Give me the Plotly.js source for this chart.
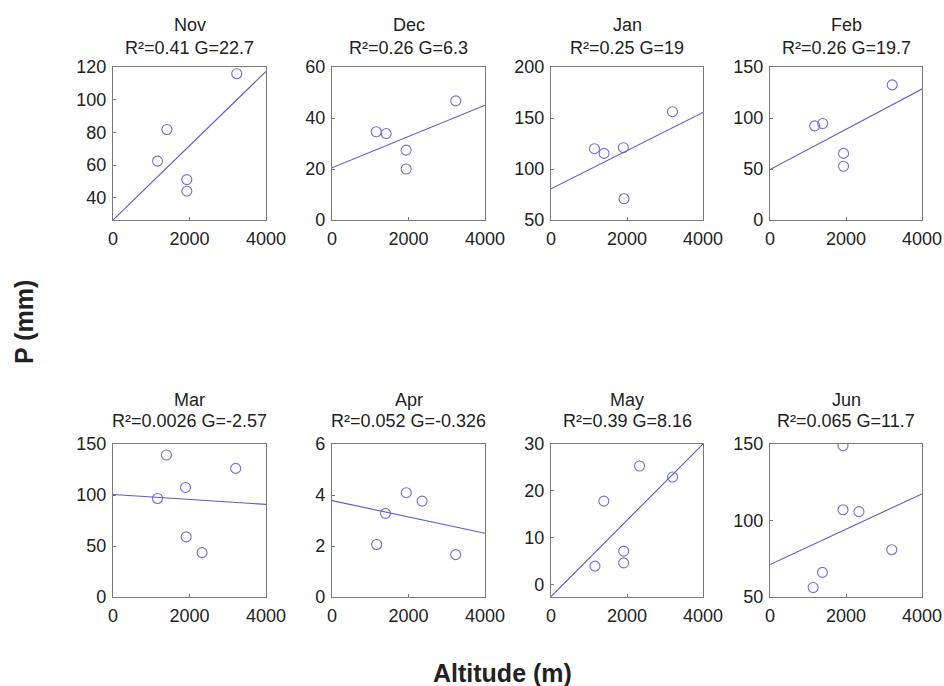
<!DOCTYPE html>
<html>
<head>
<meta charset="utf-8">
<script src="https://cdn.plot.ly/plotly-3.0.1.min.js"></script>
<style>html,body{margin:0;padding:0;background:#fff;}#chart{width:944px;height:686px;}</style>
</head>
<body>
<div id="chart"></div>
<script>
// ---- data ----
const months = ["Nov", "Dec", "Jan", "Feb", "Mar", "Apr", "May", "Jun"];
const r2Labels = ["0.41", "0.26", "0.25", "0.26", "0.0026", "0.052", "0.39", "0.065"];
const gLabels = ["22.7", "6.3", "19", "19.7", "-2.57", "-0.326", "8.16", "11.7"];

const altNov = [3235, 1410, 1165, 1930, 1930];
const pNov = [115.9, 81.8, 62.5, 51.2, 44.1];
const altDec = [3235, 1157, 1417, 1939, 1939];
const pDec = [46.7, 34.6, 33.9, 27.4, 20.0];
const altJan = [3197, 1144, 1397, 1904, 1921];
const pJan = [156.2, 119.9, 115.3, 120.9, 70.8];
const altFeb = [3216, 1176, 1386, 1935, 1935];
const pFeb = [132.5, 92.3, 94.6, 65.3, 52.7];
const altMar = [1397, 3207, 1897, 1164, 1914, 2328];
const pMar = [139.2, 126.1, 107.4, 96.6, 58.9, 43.5];
const altApr = [1943, 2356, 1398, 1169, 3235];
const pApr = [4.09, 3.76, 3.28, 2.06, 1.66];
const altMay = [2330, 3200, 1391, 1913, 1913, 1157];
const pMay = [25.3, 22.95, 17.8, 7.1, 4.6, 3.9];
const altJun = [1921, 1921, 2341, 3205, 1380, 1135];
const pJun = [148.9, 107.0, 105.8, 80.9, 66.1, 56.2];

const altitudes = [altNov, altDec, altJan, altFeb, altMar, altApr, altMay, altJun];
const precip = [pNov, pDec, pJan, pFeb, pMar, pApr, pMay, pJun];

// regression line end values (at altitude 0 m and 4000 m)
const fitX = [0, 4000];
const fitStart = [26.5, 20.5, 80.6, 49.4, 100.5, 3.78, -2.6, 71.2];
const fitEnd = [117.3, 45.0, 155.5, 128.4, 90.8, 2.5, 30.0, 117.4];

const xTicks = [0, 2000, 4000];
const yTicksList = [
  [40, 60, 80, 100, 120], [0, 20, 40, 60], [50, 100, 150, 200], [0, 50, 100, 150],
  [0, 50, 100, 150], [0, 2, 4, 6], [0, 10, 20, 30], [50, 100, 150]
];
const yRanges = [[26.5, 120], [0, 60], [50, 200], [0, 150], [0, 150], [0, 6], [-2.7, 30], [50, 150]];

// ---- layout geometry (pixels) ----
const W = 944, H = 686;
const colPx = [[113, 266], [332, 485], [551, 703], [770, 922]];
const rowPx = [[67, 220], [444, 597]];
const titleOffsets = [[42, 19], [44, 23]];
const fx = p => p / W;
const fy = p => 1 - p / H;

const FONT = "Liberation Sans, Arial, sans-serif";
const markerColor = "#6f6fe0";
const lineColor = "#5a5ad0";
const tickFont = {family: FONT, size: 18, color: "#222"};

const traces = [];
const layout = {
  width: W, height: H,
  margin: {l: 0, r: 0, t: 0, b: 0},
  paper_bgcolor: "#fff", plot_bgcolor: "#fff",
  showlegend: false,
  annotations: []
};

months.forEach((m, i) => {
  const r = Math.floor(i / 4), c = i % 4;
  const sfx = i === 0 ? "" : String(i + 1);
  const xa = "x" + sfx, ya = "y" + sfx;
  traces.push({
    x: altitudes[i], y: precip[i], xaxis: xa, yaxis: ya,
    type: "scatter", mode: "markers",
    marker: {symbol: "circle-open", size: 10, color: markerColor, line: {width: 1.1, color: markerColor}},
    hoverinfo: "x+y"
  });
  traces.push({
    x: fitX, y: [fitStart[i], fitEnd[i]], xaxis: xa, yaxis: ya,
    type: "scatter", mode: "lines",
    line: {color: lineColor, width: 1.1},
    hoverinfo: "skip"
  });
  const common = {
    showgrid: false, zeroline: false, showline: true, mirror: true,
    linecolor: "#7a7a7a", linewidth: 1.2,
    ticks: "inside", ticklen: 3, tickcolor: "#7a7a7a",
    tickfont: tickFont, fixedrange: true, ticklabelstandoff: 2
  };
  layout["xaxis" + sfx] = Object.assign({}, common, {
    domain: [fx(colPx[c][0]), fx(colPx[c][1])],
    anchor: ya, range: [0, 4000],
    tickmode: "array", tickvals: xTicks, ticktext: xTicks.map(String)
  });
  layout["yaxis" + sfx] = Object.assign({}, common, {
    domain: [fy(rowPx[r][1]), fy(rowPx[r][0])],
    anchor: xa, range: yRanges[i],
    tickmode: "array", tickvals: yTicksList[i], ticktext: yTicksList[i].map(String)
  });
  const cx = fx((colPx[c][0] + colPx[c][1]) / 2);
  const top = rowPx[r][0];
  layout.annotations.push({
    xref: "paper", yref: "paper", x: cx, y: fy(top - titleOffsets[r][0]), xanchor: "center", yanchor: "middle",
    text: m, showarrow: false, font: {family: FONT, size: 18, color: "#222"}
  });
  layout.annotations.push({
    xref: "paper", yref: "paper", x: cx, y: fy(top - titleOffsets[r][1]), xanchor: "center", yanchor: "middle",
    text: "R\u00B2=" + r2Labels[i] + " G=" + gLabels[i], showarrow: false,
    font: {family: FONT, size: 18, color: "#222"}
  });
});

layout.annotations.push({
  xref: "paper", yref: "paper", x: fx(24), y: fy(322), xanchor: "center", yanchor: "middle",
  text: "<b>P (mm)</b>", textangle: -90, showarrow: false,
  font: {family: FONT, size: 25, color: "#222"}
});
layout.annotations.push({
  xref: "paper", yref: "paper", x: fx(502), y: fy(673), xanchor: "center", yanchor: "middle",
  text: "<b>Altitude (m)</b>", showarrow: false,
  font: {family: FONT, size: 25, color: "#222"}
});

Plotly.newPlot("chart", traces, layout, {displayModeBar: false, staticPlot: true});
</script>
</body>
</html>
